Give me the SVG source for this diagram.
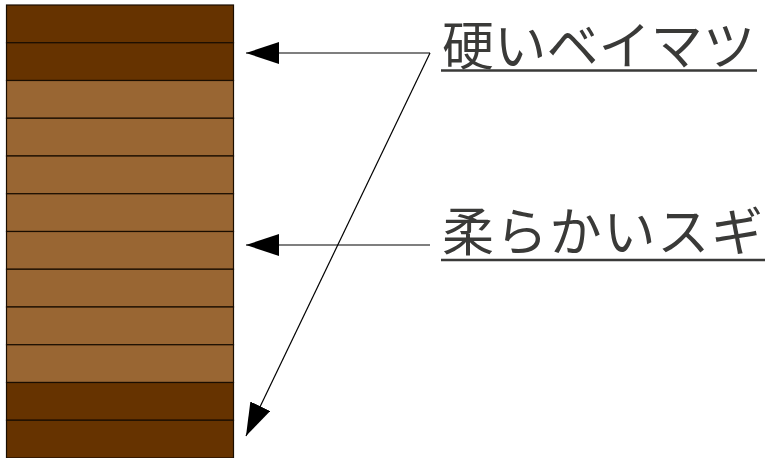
<svg xmlns="http://www.w3.org/2000/svg" width="767" height="458" viewBox="0 0 767 458">
<style>
.dark{fill:#663300;stroke:#1a0d00;stroke-width:1.2}
.light{fill:#996633;stroke:#1a0d00;stroke-width:1.2}
.lbl{font-family:"Noto Sans CJK JP","Noto Sans",sans-serif;font-size:52px;fill:#3a3a38}
.ul{stroke:#3a3a38;stroke-width:2.5}
.con{stroke:#000;stroke-width:1.2;fill:none}
</style>
<defs>
<marker id="af" viewBox="0 0 33 22" refX="33" refY="11" markerWidth="33" markerHeight="22" markerUnits="userSpaceOnUse" orient="auto">
<path d="M0,0 L33,11 L0,22 Z" fill="#000"/>
</marker>
</defs>
<g id="stack">
<rect class="dark" x="6.5" y="5" width="227" height="37.75"/>
<rect class="dark" x="6.5" y="42.75" width="227" height="37.75"/>
<rect class="light" x="6.5" y="80.5" width="227" height="37.75"/>
<rect class="light" x="6.5" y="118.25" width="227" height="37.75"/>
<rect class="light" x="6.5" y="156" width="227" height="37.75"/>
<rect class="light" x="6.5" y="193.75" width="227" height="37.75"/>
<rect class="light" x="6.5" y="231.5" width="227" height="37.75"/>
<rect class="light" x="6.5" y="269.25" width="227" height="37.75"/>
<rect class="light" x="6.5" y="307" width="227" height="37.75"/>
<rect class="light" x="6.5" y="344.75" width="227" height="37.75"/>
<rect class="dark" x="6.5" y="382.5" width="227" height="37.75"/>
<rect class="dark" x="6.5" y="420.25" width="227" height="37.75"/>
</g>
<g id="connectors">
<polyline class="con" points="430,53 246,53" marker-end="url(#af)"/>
<polyline class="con" points="430,53 246,436" marker-end="url(#af)"/>
<polyline class="con" points="430,245 246,245" marker-end="url(#af)"/>
</g>
<g id="label-hard">
<text class="lbl" x="442" y="65" textLength="313" lengthAdjust="spacing">硬いベイマツ</text>
<line class="ul" x1="441" y1="70.5" x2="757" y2="70.5"/>
</g>
<g id="label-soft">
<text class="lbl" x="442" y="251" textLength="321" lengthAdjust="spacing">柔らかいスギ</text>
<line class="ul" x1="441" y1="260" x2="765" y2="260"/>
</g>
</svg>
